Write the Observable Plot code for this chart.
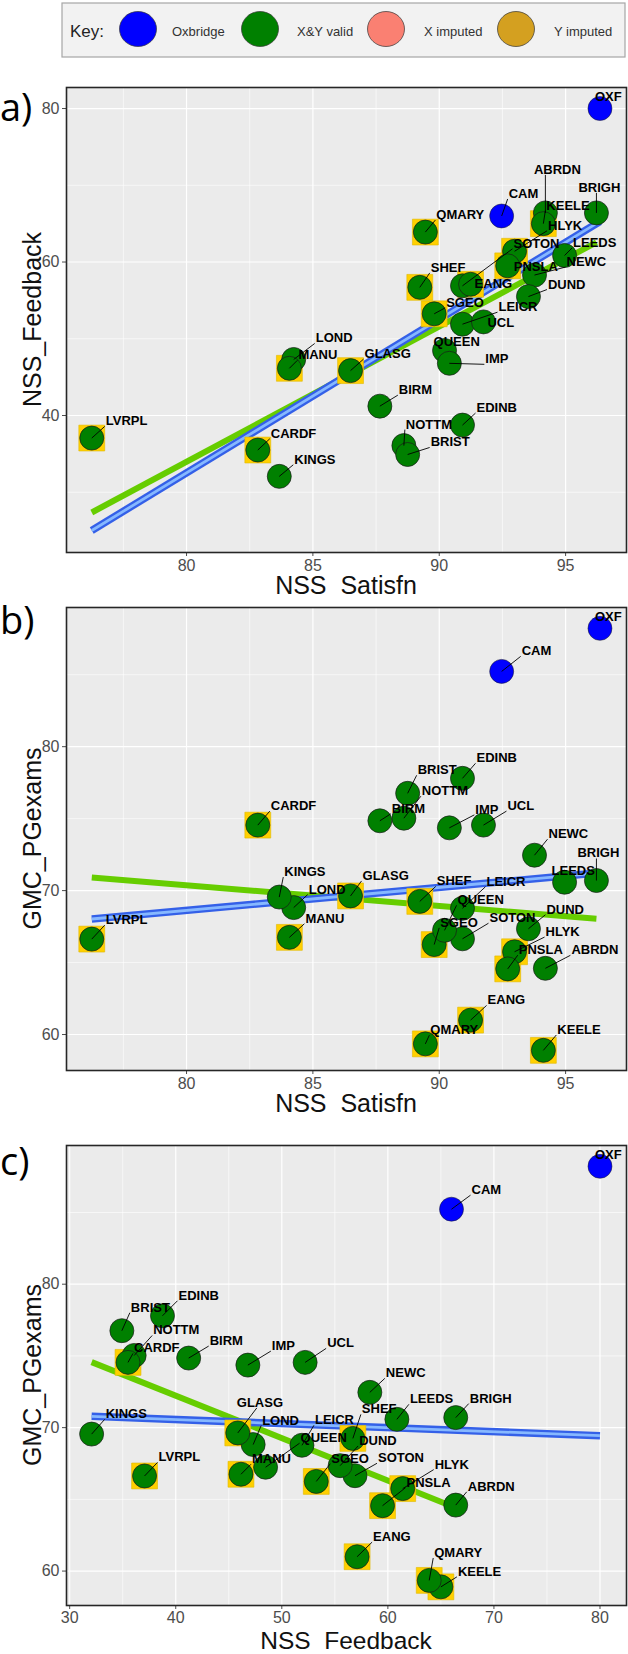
<!DOCTYPE html>
<html>
<head>
<meta charset="utf-8">
<script src="https://cdn.jsdelivr.net/npm/d3@7"></script>
<script src="https://cdn.jsdelivr.net/npm/@observablehq/plot@0.6"></script>
<style>
  html, body { margin: 0; padding: 0; background: #ffffff; }
  #fig { position: relative; width: 628px; height: 1654px; overflow: hidden; font-family: "Liberation Sans", Arial, sans-serif; }
  .panel { position: absolute; left: 0; }
  #overlay { position: absolute; left: 0; top: 0; pointer-events: none; }
</style>
</head>
<body>
<div id="fig"></div>
<script>
// ---------------- DATA ----------------
const names = ["OXF","CAM","ABRDN","BRIGH","KEELE","HLYK","QMARY","SOTON","LEEDS","NEWC","PNSLA","DUND","SHEF","EANG","SGEO","LEICR","UCL","LOND","MANU","GLASG","QUEEN","IMP","BIRM","EDINB","NOTTM","BRIST","LVRPL","CARDF","KINGS"];
const nssSatisfn  = [96.36,92.47,94.20,96.22,94.12,92.98,89.45,90.92,94.96,93.77,92.71,93.53,89.23,91.24,89.80,90.92,91.75,84.24,84.07,86.49,90.21,90.40,87.65,90.92,88.60,88.75,76.25,82.82,83.67];
const nssFeedback = [80.0,66.0,66.4,66.4,65.0,61.4,63.9,56.9,60.85,58.3,59.5,55.5,56.7,57.1,53.25,51.9,52.2,47.3,46.15,45.85,48.47,46.8,41.22,38.75,36.08,34.92,37.06,35.5,32.07];
const gmcPGexams  = [88.22,85.23,64.6,70.7,58.9,65.75,59.35,66.65,70.58,72.46,64.56,67.35,69.25,61.0,66.25,68.77,74.55,68.82,66.75,69.63,67.24,74.36,74.85,77.8,75.03,76.76,66.63,74.55,69.55];
const oxbridge = ["OXF","CAM"];
const imputed  = ["HLYK","QMARY","KEELE","PNSLA","SHEF","EANG","SGEO","MANU","GLASG","LVRPL","CARDF"];

const ticksSatisfn  = [80,85,90,95];
const minorSatisfn  = [77.5,82.5,87.5,92.5];
const ticksFeedbackY = [40,60,80];
const minorFeedbackY = [30,50,70];
const ticksFeedbackX = [30,40,50,60,70,80];
const minorFeedbackX = [35,45,55,65,75];
const ticksExams = [60,70,80];
const minorExams = [65,75,85];

const legendKeys = ["Oxbridge","X&Y valid","X imputed","Y imputed"];

// ---------------- LAYOUT (label nudges in px: [dx, dy(baseline), segment-x offset]) ----------------
const labelNudge = {
  a: {OXF:[-5,-7.5],CAM:[7,-18],QMARY:[11,-13],ABRDN:[-11.5,-39],BRIGH:[-18,-21],KEELE:[3,-14],HLYK:[33.5,-21.5],
      SOTON:[51,-38],LEEDS:[8.5,-8.6],NEWC:[32,-9],PNSLA:[6,5],DUND:[19.5,-8],SHEF:[11,-15.5],EANG:[4,3.7],
      SGEO:[12,-7],LEICR:[36,-13],UCL:[4,5],QUEEN:[-11,-4],IMP:[36,0],LOND:[22,-17],MANU:[9,-9],GLASG:[14,-12.5],
      BIRM:[19,-12],EDINB:[14,-13],NOTTM:[2,-17],BRIST:[23,-8],LVRPL:[14,-12.7],CARDF:[13,-12.3],KINGS:[15,-12.6]},
  b: {OXF:[-5,-7],CAM:[20,-16],EDINB:[14,-16],BRIST:[10,-19],NOTTM:[18,-23],BIRM:[12,-8],IMP:[26,-14],UCL:[24,-15],
      CARDF:[13,-15],NEWC:[14,-17],BRIGH:[-19,-23],LEEDS:[-13,-7.7],KINGS:[5,-21],GLASG:[12,-16],LOND:[15,-14],
      MANU:[16,-14.6],LVRPL:[14,-15],SHEF:[17,-16],LEICR:[24,-22.6],QUEEN:[13,-26],SGEO:[6,-17.7],SOTON:[27,-16.6],
      DUND:[18,-15],HLYK:[31,-15.7],PNSLA:[11,-14.7],ABRDN:[26,-14],EANG:[17,-15.7],QMARY:[5,-9.7],KEELE:[14,-16.4]},
  c: {OXF:[-5,-7],CAM:[20,-15],EDINB:[16,-16],BRIST:[9,-19],NOTTM:[19,-21],CARDF:[6,-10],BIRM:[21,-13],IMP:[24,-15],
      UCL:[22,-15],NEWC:[16,-15],BRIGH:[14,-15],LEEDS:[13,-16],KINGS:[14,-15.7],GLASG:[-1,-26,20],LOND:[9,-20],
      LEICR:[13,-21],SHEF:[9,-25],QUEEN:[35,-25],DUND:[19,-20.7],LVRPL:[14,-14.6],MANU:[11,-11],SGEO:[15,-18.7],
      SOTON:[23,-13.4],HLYK:[32,-20],PNSLA:[24,-19],ABRDN:[12,-14.3],EANG:[16,-15.6],QMARY:[5,-23.4],KEELE:[17,-11]}
};

const W = 628, ML = 66, MR = 2;
const FONT = "Liberation Sans, Arial, sans-serif";

function panel(opt) {
  const {xv, yv, xDomain, yDomain, xTicks, xMinor, yTicks, yMinor, top, height, mt, mb, nudge, xPad} = opt;
  const kx = (W - ML - MR) / (xDomain[1] - xDomain[0]);
  const ky = (height - mt - mb) / (yDomain[1] - yDomain[0]);
  const rows = names.map((n, i) => ({
    name: n, x: xv[i], y: yv[i],
    ox: oxbridge.includes(n), imp: imputed.includes(n)
  }));
  rows.forEach(r => {
    const o = nudge[r.name] || [10, -12];
    const dx = o[0], dy = o[1];
    const lblW = r.name.length * 9;
    let sx;
    if (o[2] !== undefined) sx = dx + o[2];
    else if (dx < -5) sx = Math.min(0, dx + lblW);
    else sx = dx - 1;
    const sy = dy + 1;
    r.lx = r.x + dx / kx;
    r.ly = r.y - (dy - 4.2) / ky;
    r.sx = r.x + sx / kx;
    r.sy = r.y - sy / ky;
    r.seg = Math.hypot(sx, sy) > 9;
  });
  const others = rows.filter(d => !d.ox);
  const svg = Plot.plot({
    width: W, height,
    marginLeft: ML, marginRight: MR, marginTop: mt, marginBottom: mb,
    style: {background: "transparent", fontFamily: FONT, fontSize: "16px", color: "#4D4D4D", overflow: "visible"},
    x: {domain: xDomain, ticks: xTicks, tickSize: 4, tickPadding: xPad, label: null},
    y: {domain: yDomain, ticks: yTicks, tickSize: 4, tickPadding: 3, label: null},
    marks: [
      Plot.frame({fill: "#EBEBEB"}),
      Plot.ruleX(xMinor, {stroke: "#ffffff", strokeWidth: 0.6}),
      Plot.ruleY(yMinor, {stroke: "#ffffff", strokeWidth: 0.6}),
      Plot.ruleX(xTicks, {stroke: "#ffffff", strokeWidth: 1.2}),
      Plot.ruleY(yTicks, {stroke: "#ffffff", strokeWidth: 1.2}),
      Plot.linearRegressionY(others, {x: "x", y: "y", ci: 0, stroke: "#66CD00", strokeWidth: 6, strokeLinecap: "butt"}),
      Plot.linearRegressionY(rows, {x: "x", y: "y", ci: 0, stroke: "#3460E8", strokeWidth: 7.5, strokeLinecap: "butt"}),
      Plot.linearRegressionY(rows, {x: "x", y: "y", ci: 0, stroke: "#86B8FF", strokeWidth: 2.8, strokeLinecap: "butt"}),
      Plot.dot(rows.filter(d => d.imp), {x: "x", y: "y", symbol: "square", r: 14.6, fill: "#FFD000", stroke: "#E0B800", strokeWidth: 0.6}),
      Plot.dot(others, {x: "x", y: "y", r: 12, fill: "#008000", stroke: "#1a1a1a", strokeWidth: 0.7}),
      Plot.dot(rows.filter(d => d.ox), {x: "x", y: "y", r: 12, fill: "#0000FF", stroke: "#1a1a1a", strokeWidth: 0.5}),
      Plot.link(rows.filter(d => d.seg), {x1: "x", y1: "y", x2: "sx", y2: "sy", stroke: "#000000", strokeWidth: 0.9}),
      Plot.text(rows, {x: "lx", y: "ly", text: "name", textAnchor: "start", fontSize: 13, fontWeight: "bold", fill: "#000000", fontFamily: FONT}),
      Plot.frame({stroke: "#262626", strokeWidth: 1.6})
    ]
  });
  svg.classList.add("panel");
  svg.style.top = top + "px";
  return svg;
}

const fig = document.getElementById("fig");

fig.appendChild(panel({
  xv: nssSatisfn, yv: nssFeedback,
  xDomain: [75.25, 97.41], yDomain: [22.15, 82.74],
  xTicks: ticksSatisfn, xMinor: minorSatisfn, yTicks: ticksFeedbackY, yMinor: minorFeedbackY,
  top: 60, height: 545, mt: 27, mb: 53, nudge: labelNudge.a, xPad: 3
}));
fig.appendChild(panel({
  xv: nssSatisfn, yv: gmcPGexams,
  xDomain: [75.25, 97.41], yDomain: [57.5, 89.67],
  xTicks: ticksSatisfn, xMinor: minorSatisfn, yTicks: ticksExams, yMinor: minorExams,
  top: 600, height: 540, mt: 7, mb: 70, nudge: labelNudge.b, xPad: 3
}));
fig.appendChild(panel({
  xv: nssFeedback, yv: gmcPGexams,
  xDomain: [29.7, 82.5], yDomain: [57.6, 89.67],
  xTicks: ticksFeedbackX, xMinor: minorFeedbackX, yTicks: ticksExams, yMinor: minorExams,
  top: 1140, height: 514, mt: 5, mb: 49, nudge: labelNudge.c, xPad: 2
}));

// ---------------- overlay: legend, titles, panel letters ----------------
const ns = "http://www.w3.org/2000/svg";
const ov = d3.select(fig).append("svg").attr("id", "overlay").attr("width", W).attr("height", 1654)
  .attr("xmlns", ns).style("font-family", FONT);

const lg = ov.append("g");
lg.append("rect").attr("x", 62).attr("y", 3).attr("width", 563).attr("height", 54)
  .attr("fill", "#F2F2F2").attr("stroke", "#A6A6A6").attr("stroke-width", 1.2);
lg.append("text").attr("x", 70).attr("y", 37).attr("font-size", 17).attr("fill", "#222").text("Key:");
const legendColors = ["#0000FF", "#008000", "#FA8072", "#D4A020"];
const legendCx = [138, 260, 386, 516];
const legendTx = [172, 297, 424, 554];
legendKeys.forEach((k, i) => {
  lg.append("ellipse").attr("cx", legendCx[i]).attr("cy", 29).attr("rx", 18.5).attr("ry", 17.5)
    .attr("fill", legendColors[i]).attr("stroke", "#333").attr("stroke-width", 0.7);
  lg.append("text").attr("x", legendTx[i]).attr("y", 35.5).attr("font-size", 13).attr("fill", "#333").text(k);
});

const titles = [
  {x: 346, y: 594, t: "NSS\u00a0\u00a0Satisfn", s: 25},
  {x: 346, y: 1112, t: "NSS\u00a0\u00a0Satisfn", s: 25},
  {x: 346, y: 1648.5, t: "NSS\u00a0\u00a0Feedback", s: 24.5}
];
titles.forEach(d => ov.append("text").attr("x", d.x).attr("y", d.y).attr("text-anchor", "middle")
  .attr("font-size", d.s).attr("fill", "#111").text(d.t));
const ytitles = [
  {y: 319.5, t: "NSS_Feedback"},
  {y: 838.5, t: "GMC_PGexams"},
  {y: 1375, t: "GMC_PGexams"}
];
ytitles.forEach(d => ov.append("text").attr("transform", `translate(41,${d.y}) rotate(-90)`)
  .attr("text-anchor", "middle").attr("font-size", 25).attr("fill", "#111").text(d.t));

const letters = [{y: 121, t: "a)"}, {y: 634, t: "b)"}, {y: 1175, t: "c)"}];
letters.forEach(d => ov.append("text").attr("x", 0).attr("y", d.y).attr("font-size", 38)
  .attr("font-family", "Open Sans, Noto Sans, sans-serif").attr("fill", "#000").text(d.t));
</script>
</body>
</html>
